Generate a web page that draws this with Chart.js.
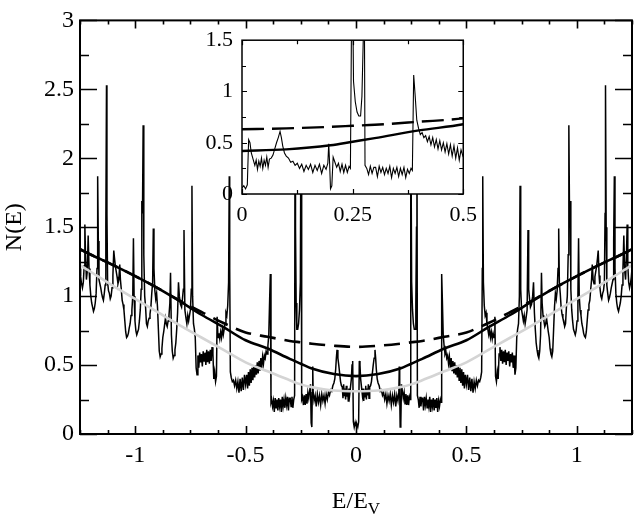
<!DOCTYPE html>
<html>
<head>
<meta charset="utf-8">
<script src="https://cdn.jsdelivr.net/npm/chart.js@4.4.1/dist/chart.umd.min.js"></script>
<style>
  body { margin: 0; background: #fff; }
  #wrap { position: relative; width: 635px; height: 518px; }
  #main { position: absolute; left: 0; top: 0; }
  #inset { position: absolute; left: 200px; top: 18px; }
</style>
</head>
<body>
<div id="wrap">
  <canvas id="main" width="635" height="518"></canvas>
  <canvas id="inset" width="285" height="205"></canvas>
</div>
<script>
// density of states for E >= 0 (the curve is symmetric in E)
const dosE = [
  0.000, 0.004, 0.008, 0.012, 0.015, 0.018, 0.021, 0.025, 0.029, 0.032,
  0.035, 0.038, 0.041, 0.044, 0.047, 0.050, 0.053, 0.056, 0.059, 0.062,
  0.066, 0.070, 0.074, 0.078, 0.082, 0.086, 0.089, 0.092, 0.096, 0.100,
  0.105, 0.110, 0.115, 0.120, 0.125, 0.130, 0.135, 0.140, 0.145, 0.150,
  0.155, 0.160, 0.165, 0.170, 0.175, 0.180, 0.185, 0.190, 0.194, 0.196,
  0.198, 0.200, 0.203, 0.206, 0.210, 0.214, 0.218, 0.222, 0.226, 0.230,
  0.234, 0.238, 0.242, 0.245, 0.247, 0.249, 0.252, 0.256, 0.260, 0.264,
  0.268, 0.271, 0.274, 0.276, 0.278, 0.282, 0.286, 0.290, 0.294, 0.298,
  0.302, 0.306, 0.310, 0.314, 0.318, 0.322, 0.326, 0.330, 0.334, 0.338,
  0.342, 0.346, 0.350, 0.354, 0.358, 0.362, 0.366, 0.370, 0.374, 0.378,
  0.382, 0.385, 0.388, 0.391, 0.395, 0.399, 0.403, 0.407, 0.411, 0.415,
  0.419, 0.423, 0.427, 0.431, 0.435, 0.439, 0.443, 0.447, 0.451, 0.455,
  0.459, 0.463, 0.467, 0.471, 0.475, 0.479, 0.483, 0.487, 0.491, 0.495,
  0.500, 0.505, 0.510, 0.515, 0.520, 0.525, 0.530, 0.535, 0.540, 0.545,
  0.550, 0.555, 0.560, 0.565, 0.569, 0.572, 0.574, 0.577, 0.581, 0.585,
  0.589, 0.593, 0.597, 0.601, 0.605, 0.609, 0.613, 0.617, 0.621, 0.625,
  0.629, 0.632, 0.636, 0.640, 0.644, 0.648, 0.652, 0.656, 0.660, 0.664,
  0.668, 0.672, 0.676, 0.680, 0.684, 0.688, 0.692, 0.696, 0.700, 0.704,
  0.708, 0.712, 0.716, 0.720, 0.724, 0.728, 0.732, 0.736, 0.740, 0.743,
  0.746, 0.750, 0.754, 0.758, 0.762, 0.766, 0.770, 0.775, 0.779, 0.782,
  0.786, 0.790, 0.795, 0.800, 0.804, 0.808, 0.812, 0.816, 0.820, 0.824,
  0.828, 0.832, 0.836, 0.840, 0.843, 0.847, 0.851, 0.855, 0.859, 0.863,
  0.867, 0.871, 0.875, 0.879, 0.883, 0.887, 0.891, 0.895, 0.899, 0.903,
  0.907, 0.911, 0.915, 0.918, 0.921, 0.925, 0.929, 0.933, 0.937, 0.941,
  0.945, 0.949, 0.953, 0.957, 0.961, 0.964, 0.967, 0.970, 0.973, 0.977,
  0.981, 0.985, 0.989, 0.993, 0.997, 1.001, 1.005, 1.008, 1.011, 1.015,
  1.019, 1.023, 1.027, 1.031, 1.035, 1.039, 1.043, 1.047, 1.051, 1.055,
  1.059, 1.063, 1.067, 1.070, 1.074, 1.078, 1.082, 1.086, 1.090, 1.094,
  1.097, 1.101, 1.105, 1.109, 1.113, 1.117, 1.121, 1.125, 1.128, 1.130,
  1.133, 1.136, 1.140, 1.144, 1.148, 1.152, 1.156, 1.160, 1.164, 1.167,
  1.170, 1.173, 1.177, 1.181, 1.185, 1.189, 1.193, 1.197, 1.201, 1.205,
  1.209, 1.213, 1.217, 1.221, 1.225, 1.228, 1.231, 1.235, 1.239, 1.243,
  1.247, 1.250
];
const dosN = [
  0.06, 0.08, 0.05, 0.09, 0.53, 0.50, 0.40, 0.34, 0.28, 0.33,
  0.24, 0.32, 0.27, 0.35, 0.25, 0.33, 0.28, 0.36, 0.26, 0.34,
  0.35, 0.38, 0.44, 0.50, 0.55, 0.61, 0.55, 0.47, 0.40, 0.37,
  0.35, 0.31, 0.32, 0.28, 0.30, 0.25, 0.29, 0.22, 0.28, 0.24,
  0.29, 0.21, 0.28, 0.23, 0.29, 0.20, 0.28, 0.24, 0.30, 0.49,
  0.30, 0.05, 0.08, 0.36, 0.31, 0.26, 0.30, 0.22, 0.29, 0.21,
  0.28, 0.21, 0.27, 0.25, 1.40, 2.45, 1.10, 0.90, 0.80, 0.76,
  0.76, 0.95, 1.50, 2.40, 0.28, 0.25, 0.19, 0.27, 0.20, 0.26,
  0.26, 0.17, 0.27, 0.21, 0.26, 0.19, 0.25, 0.20, 0.27, 0.16,
  0.25, 0.20, 0.26, 0.17, 0.25, 0.19, 0.26, 0.16, 0.24, 0.20,
  0.25, 0.23, 1.16, 0.98, 0.72, 0.64, 0.58, 0.60, 0.55, 0.57,
  0.51, 0.56, 0.48, 0.55, 0.46, 0.53, 0.44, 0.52, 0.43, 0.50,
  0.41, 0.49, 0.39, 0.48, 0.37, 0.47, 0.35, 0.45, 0.33, 0.43,
  0.36, 0.43, 0.32, 0.41, 0.31, 0.40, 0.30, 0.38, 0.33, 0.39,
  0.35, 0.39, 0.38, 0.41, 0.45, 1.20, 1.87, 1.10, 0.93, 0.86,
  0.88, 0.80, 0.76, 0.72, 0.76, 0.70, 0.74, 0.69, 0.73, 0.70,
  0.85, 0.42, 0.38, 0.45, 0.40, 0.58, 0.63, 0.53, 0.61, 0.51,
  0.60, 0.52, 0.61, 0.50, 0.59, 0.53, 0.60, 0.49, 0.58, 0.52,
  0.59, 0.48, 0.57, 0.43, 0.48, 0.70, 0.76, 0.80, 1.00, 1.80,
  1.05, 0.90, 0.86, 0.82, 0.86, 0.80, 0.84, 0.90, 1.48, 1.05,
  0.98, 0.92, 0.94, 1.00, 1.10, 0.88, 0.76, 0.66, 0.61, 0.57,
  0.55, 0.60, 0.72, 1.17, 0.95, 0.86, 0.82, 0.78, 0.80, 0.84,
  0.79, 0.74, 0.70, 0.62, 0.58, 0.56, 0.60, 0.76, 0.92, 1.02,
  0.98, 1.04, 1.20, 1.49, 1.10, 1.02, 0.92, 0.87, 0.84, 0.82,
  0.78, 0.80, 0.92, 1.00, 1.30, 2.24, 1.60, 1.69, 1.05, 0.90,
  0.82, 0.76, 0.74, 0.72, 0.75, 0.82, 1.00, 1.42, 1.00, 0.90,
  0.86, 0.80, 0.77, 0.73, 0.71, 0.70, 0.74, 0.82, 0.90, 0.94,
  0.97, 1.05, 1.12, 1.23, 1.12, 1.09, 1.14, 1.18, 1.22, 1.28,
  1.33, 1.15, 1.06, 1.00, 0.98, 1.02, 1.04, 1.10, 1.60, 2.53,
  1.50, 1.08, 1.02, 0.97, 0.99, 1.02, 1.06, 1.09, 1.12, 1.40,
  1.87, 1.20, 1.02, 0.95, 0.91, 0.89, 0.92, 0.95, 1.00, 1.08,
  1.20, 1.44, 1.18, 1.12, 1.30, 1.52, 1.22, 1.10, 1.06, 1.09,
  1.14, 1.20
];

// smooth curves, also read for E >= 0
const smoothE  = [0, 0.1, 0.2, 0.25, 0.3, 0.4, 0.5, 0.6, 0.7, 0.8, 0.9, 1.0, 1.1, 1.2, 1.25];
const solidN   = [0.42, 0.435, 0.475, 0.51, 0.545, 0.62, 0.68, 0.775, 0.865, 0.965, 1.06, 1.145, 1.225, 1.30, 1.34];
const dashedN  = [0.632, 0.64, 0.655, 0.665, 0.675, 0.705, 0.737, 0.805, 0.885, 0.97, 1.06, 1.145, 1.225, 1.30, 1.34];
const grayN    = [0.31, 0.315, 0.34, 0.36, 0.39, 0.455, 0.52, 0.61, 0.70, 0.79, 0.885, 0.98, 1.075, 1.175, 1.225];

const xTickLabels = [-1, -0.5, 0, 0.5, 1];
const yTickLabels = [0, 0.5, 1, 1.5, 2, 2.5, 3];
const insetXTickLabels = [0, 0.25, 0.5];
const insetYTickLabels = [0, 0.5, 1, 1.5];

function bothSides(es, ns) {
  const left = es.map((e, i) => ({ x: -e, y: ns[i] })).reverse();
  const right = es.map((e, i) => ({ x: e, y: ns[i] }));
  return left.concat(right);
}
function rightSide(es, ns) {
  return es.map((e, i) => ({ x: e, y: ns[i] }));
}

const SERIF = "'Liberation Serif', 'Times New Roman', Tinos, Times, serif";
Chart.defaults.font.family = SERIF;
Chart.defaults.color = "#000";

// frame + inward ticks on all four sides
const frameTicks = {
  id: "frameTicks",
  beforeDraw(chart, args, o) {
    if (!o.fill) return;
    const a = chart.chartArea;
    chart.ctx.save();
    chart.ctx.fillStyle = "#fff";
    chart.ctx.fillRect(a.left, a.top, a.right - a.left, a.bottom - a.top);
    chart.ctx.restore();
  },
  afterDraw(chart, args, o) {
    const ctx = chart.ctx, a = chart.chartArea;
    const xs = chart.scales.x, ys = chart.scales.y;
    ctx.save();
    ctx.strokeStyle = "#000";
    ctx.lineWidth = o.tickWidth;
    ctx.beginPath();
    for (let i = 0; ; i++) {
      const v = xs.min + i * o.xMinor;
      if (v > xs.max + 1e-9) break;
      const px = Math.round(xs.getPixelForValue(v)) + 0.5;
      const r = v / o.xMajor;
      const len = Math.abs(r - Math.round(r)) < 1e-6 ? o.xMajorLen : o.xMinorLen;
      ctx.moveTo(px, a.bottom); ctx.lineTo(px, a.bottom - len);
      ctx.moveTo(px, a.top); ctx.lineTo(px, a.top + len);
    }
    for (let i = 0; ; i++) {
      const v = ys.min + i * o.yMinor;
      if (v > ys.max + 1e-9) break;
      const py = Math.round(ys.getPixelForValue(v)) + 0.5;
      const r = v / o.yMajor;
      const len = Math.abs(r - Math.round(r)) < 1e-6 ? o.yMajorLen : o.yMinorLen;
      ctx.moveTo(a.left, py); ctx.lineTo(a.left + len, py);
      ctx.moveTo(a.right, py); ctx.lineTo(a.right - len, py);
    }
    ctx.stroke();
    ctx.lineWidth = o.frameWidth;
    ctx.strokeRect(a.left, a.top, a.right - a.left, a.bottom - a.top);
    ctx.restore();
  }
};

// x title with subscript
const xTitle = {
  id: "xTitle",
  afterDraw(chart) {
    const ctx = chart.ctx, a = chart.chartArea;
    const cx = (a.left + a.right) / 2;
    ctx.save();
    ctx.fillStyle = "#000";
    ctx.font = "24px " + SERIF;
    const w1 = ctx.measureText("E/E").width;
    ctx.font = "17px " + SERIF;
    const w2 = ctx.measureText("V").width;
    const x0 = cx - (w1 + w2) / 2;
    ctx.textBaseline = "alphabetic";
    ctx.font = "24px " + SERIF;
    ctx.fillText("E/E", x0, 508);
    ctx.font = "17px " + SERIF;
    ctx.fillText("V", x0 + w1, 514);
    ctx.restore();
  }
};

const asText = v => String(v);

function draw() {
  new Chart(document.getElementById("main"), {
    type: "scatter",
    data: {
      datasets: [
        { data: bothSides(smoothE, solidN), showLine: true, borderColor: "#000", borderWidth: 2.6,
          pointRadius: 0, cubicInterpolationMode: "monotone", order: 0 },
        { data: bothSides(smoothE, dashedN), showLine: true, borderColor: "#000", borderWidth: 2.6,
          borderDash: [16, 9], pointRadius: 0, cubicInterpolationMode: "monotone", order: 1 },
        { data: bothSides(smoothE, grayN), showLine: true, borderColor: "#d4d4d4", borderWidth: 2.6,
          pointRadius: 0, cubicInterpolationMode: "monotone", order: 2 },
        { data: bothSides(dosE, dosN), showLine: true, borderColor: "#000", borderWidth: 1.5,
          pointRadius: 0, order: 3 }
      ]
    },
    options: {
      responsive: false,
      animation: false,
      devicePixelRatio: 1,
      layout: { padding: { left: 0, top: 10, right: 3, bottom: 0 } },
      plugins: {
        legend: { display: false },
        tooltip: { enabled: false },
        frameTicks: { tickWidth: 1.6, frameWidth: 2, xMinor: 0.125, xMajor: 0.5, xMajorLen: 8, xMinorLen: 4,
                      yMinor: 0.25, yMajor: 0.5, yMajorLen: 17, yMinorLen: 9 }
      },
      scales: {
        x: {
          type: "linear", min: -1.25, max: 1.25,
          afterBuildTicks: s => { s.ticks = xTickLabels.map(v => ({ value: v })); },
          afterFit: s => { s.height = 84; },
          grid: { display: false, drawTicks: false },
          border: { display: false },
          ticks: { font: { size: 24 }, padding: 7, maxRotation: 0, callback: asText }
        },
        y: {
          type: "linear", min: 0, max: 3,
          afterBuildTicks: s => { s.ticks = yTickLabels.map(v => ({ value: v })); },
          afterFit: s => { s.width = 80; },
          grid: { display: false, drawTicks: false },
          border: { display: false },
          ticks: { font: { size: 24 }, padding: 6, callback: asText },
          title: { display: true, text: "N(E)", font: { size: 24 }, padding: { top: 0, bottom: 0 } }
        }
      }
    },
    plugins: [frameTicks, xTitle]
  });

  new Chart(document.getElementById("inset"), {
    type: "scatter",
    data: {
      datasets: [
        { data: rightSide(smoothE, solidN), showLine: true, borderColor: "#000", borderWidth: 2.4,
          pointRadius: 0, cubicInterpolationMode: "monotone", order: 0 },
        { data: rightSide(smoothE, dashedN), showLine: true, borderColor: "#000", borderWidth: 2.4,
          borderDash: [22, 8], pointRadius: 0, cubicInterpolationMode: "monotone", order: 1 },
        { data: rightSide(dosE, dosN), showLine: true, borderColor: "#000", borderWidth: 1.1,
          pointRadius: 0, order: 2 }
      ]
    },
    options: {
      responsive: false,
      animation: false,
      devicePixelRatio: 1,
      layout: { padding: { left: 0, top: 10, right: 14, bottom: 0 } },
      plugins: {
        legend: { display: false },
        tooltip: { enabled: false },
        frameTicks: { fill: true, tickWidth: 1.2, frameWidth: 1.5, xMinor: 0.125, xMajor: 0.25, xMajorLen: 5, xMinorLen: 4,
                      yMinor: 0.25, yMajor: 0.5, yMajorLen: 5, yMinorLen: 4 }
      },
      scales: {
        x: {
          type: "linear", min: 0, max: 0.5,
          afterBuildTicks: s => { s.ticks = insetXTickLabels.map(v => ({ value: v })); },
          afterFit: s => { s.height = 29; },
          grid: { display: false, drawTicks: false },
          border: { display: false },
          ticks: { font: { size: 22 }, padding: 8, maxRotation: 0, callback: asText }
        },
        y: {
          type: "linear", min: 0, max: 1.5,
          afterBuildTicks: s => { s.ticks = insetYTickLabels.map(v => ({ value: v })); },
          afterFit: s => { s.width = 42; },
          grid: { display: false, drawTicks: false },
          border: { display: false },
          ticks: { font: { size: 22 }, padding: 9, callback: asText }
        }
      }
    },
    plugins: [frameTicks]
  });
}

if (document.fonts && document.fonts.load) {
  document.fonts.load("24px 'Liberation Serif'").then(draw, draw);
} else {
  draw();
}
</script>
</body>
</html>
